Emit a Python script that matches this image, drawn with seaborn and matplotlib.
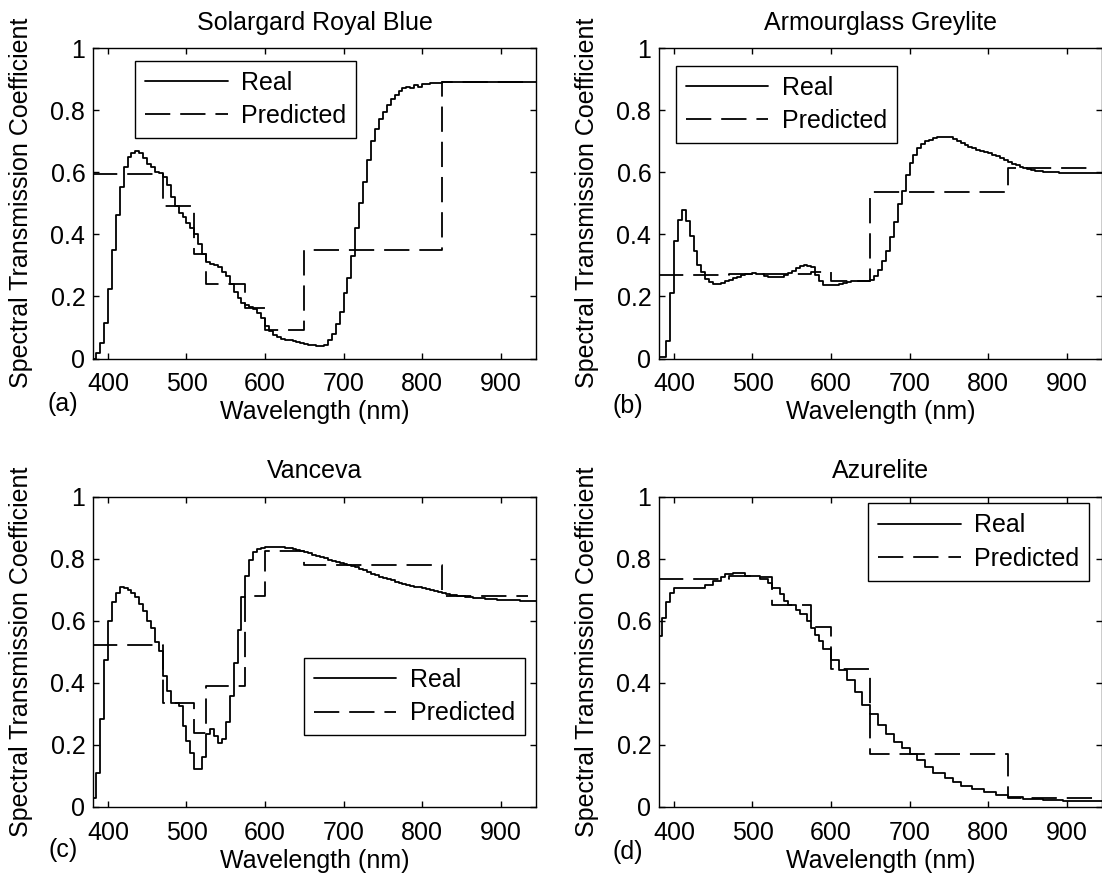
import numpy as np
import matplotlib
matplotlib.use("Agg")
import matplotlib.pyplot as plt
import seaborn as sns

# Sample grid of the measured spectra (5 nm) and the band edges of the prediction
WAVELENGTH = np.arange(380, 950, 5)
BAND_EDGES = [380, 470, 510, 525, 575, 600, 650, 825, 935]

TITLES = ["Solargard Royal Blue", "Armourglass Greylite", "Vanceva", "Azurelite"]
TAGS = ["(a)", "(b)", "(c)", "(d)"]
X_TICKS = [400, 500, 600, 700, 800, 900]
Y_TICKS = [0, 0.2, 0.4, 0.6, 0.8, 1.0]
Y_TICK_LABELS = ["0", "0.2", "0.4", "0.6", "0.8", "1"]

SOLARGARD_REAL = [
    0.00, 0.017, 0.051, 0.115, 0.223, 0.35, 0.462, 0.553, 0.618, 0.648,  # 380-425
    0.663, 0.669, 0.663, 0.647, 0.626, 0.616, 0.602, 0.597, 0.586, 0.56,  # 430-475
    0.52, 0.49, 0.47, 0.455, 0.435, 0.42, 0.40, 0.37, 0.335, 0.31,  # 480-525
    0.305, 0.30, 0.295, 0.28, 0.265, 0.24, 0.215, 0.195, 0.18, 0.172,  # 530-575
    0.165, 0.16, 0.145, 0.13, 0.105, 0.09, 0.075, 0.068, 0.064, 0.061,  # 580-625
    0.058, 0.055, 0.052, 0.05, 0.048, 0.045, 0.042, 0.04, 0.04, 0.045,  # 630-675
    0.06, 0.08, 0.11, 0.15, 0.21, 0.26, 0.33, 0.42, 0.50, 0.57,      # 680-725
    0.64, 0.70, 0.74, 0.77, 0.795, 0.815, 0.835, 0.85, 0.86, 0.87,   # 730-775
    0.876, 0.872, 0.88, 0.876, 0.884, 0.885, 0.886, 0.887, 0.888, 0.889,  # 780-825
    0.889, 0.889, 0.89, 0.89, 0.89, 0.89, 0.89, 0.891, 0.891, 0.891,  # 830-875
    0.891, 0.891, 0.892, 0.892, 0.892, 0.892, 0.892, 0.892, 0.892, 0.892,  # 880-925
    0.892, 0.892, 0.892, 0.892,                                      # 930-945
]
SOLARGARD_PRED = [0.593, 0.492, 0.336, 0.241, 0.163, 0.093, 0.349, 0.889]

GREYLITE_REAL = [
    0.005, 0.005, 0.056, 0.21, 0.38, 0.445, 0.478, 0.443, 0.395, 0.347,  # 380-425
    0.30, 0.277, 0.255, 0.245, 0.241, 0.239, 0.242, 0.249, 0.254, 0.259,  # 430-475
    0.264, 0.268, 0.271, 0.273, 0.274, 0.272, 0.271, 0.267, 0.264, 0.262,  # 480-525
    0.262, 0.263, 0.268, 0.275, 0.282, 0.292, 0.298, 0.301, 0.299, 0.294,  # 530-575
    0.27, 0.25, 0.237, 0.236, 0.237, 0.238, 0.24, 0.243, 0.246, 0.248,  # 580-625
    0.25, 0.25, 0.25, 0.25, 0.254, 0.265, 0.285, 0.314, 0.345, 0.39,  # 630-675
    0.44, 0.497, 0.54, 0.59, 0.63, 0.655, 0.678, 0.69, 0.70, 0.705,  # 680-725
    0.71, 0.713, 0.714, 0.714, 0.712, 0.706, 0.70, 0.694, 0.688, 0.682,  # 730-775
    0.677, 0.672, 0.667, 0.664, 0.661, 0.657, 0.651, 0.645, 0.639, 0.633,  # 780-825
    0.627, 0.622, 0.618, 0.614, 0.61, 0.607, 0.605, 0.603, 0.602, 0.601,  # 830-875
    0.60, 0.60, 0.599, 0.598, 0.598, 0.598, 0.598, 0.598, 0.598, 0.598,  # 880-925
    0.598, 0.598, 0.598, 0.598,                                      # 930-945
]
GREYLITE_PRED = [0.27, 0.272, 0.272, 0.272, 0.28, 0.25, 0.535, 0.612]

VANCEVA_REAL = [
    0.028, 0.11, 0.285, 0.475, 0.60, 0.66, 0.69, 0.71, 0.705, 0.70,  # 380-425
    0.69, 0.675, 0.655, 0.63, 0.60, 0.575, 0.532, 0.502, 0.421, 0.375,  # 430-475
    0.336, 0.336, 0.325, 0.26, 0.213, 0.175, 0.123, 0.123, 0.16, 0.234,  # 480-525
    0.25, 0.228, 0.207, 0.218, 0.274, 0.357, 0.464, 0.571, 0.676, 0.743,  # 530-575
    0.797, 0.82, 0.83, 0.835, 0.837, 0.838, 0.838, 0.837, 0.836, 0.835,  # 580-625
    0.833, 0.83, 0.828, 0.825, 0.821, 0.817, 0.813, 0.809, 0.805, 0.801,  # 630-675
    0.797, 0.793, 0.789, 0.786, 0.783, 0.78, 0.776, 0.772, 0.767, 0.762,  # 680-725
    0.757, 0.752, 0.747, 0.742, 0.738, 0.734, 0.73, 0.726, 0.722, 0.719,  # 730-775
    0.716, 0.713, 0.71, 0.707, 0.704, 0.701, 0.698, 0.695, 0.692, 0.689,  # 780-825
    0.686, 0.684, 0.682, 0.68, 0.678, 0.676, 0.675, 0.674, 0.673, 0.672,  # 830-875
    0.671, 0.67, 0.669, 0.668, 0.667, 0.667, 0.666, 0.666, 0.666, 0.665,  # 880-925
    0.665, 0.665, 0.665, 0.665,                                      # 930-945
]
VANCEVA_PRED = [0.523, 0.336, 0.239, 0.389, 0.679, 0.825, 0.78, 0.68]

AZURELITE_REAL = [
    0.55, 0.61, 0.66, 0.69, 0.705, 0.705, 0.705, 0.705, 0.705, 0.705,  # 380-425
    0.705, 0.705, 0.715, 0.715, 0.728, 0.728, 0.74, 0.75, 0.75, 0.755,  # 430-475
    0.755, 0.755, 0.745, 0.745, 0.745, 0.745, 0.735, 0.735, 0.72, 0.705,  # 480-525
    0.705, 0.685, 0.665, 0.65, 0.65, 0.635, 0.62, 0.62, 0.60, 0.575,  # 530-575
    0.555, 0.535, 0.51, 0.51, 0.475, 0.475, 0.44, 0.44, 0.41, 0.41,  # 580-625
    0.37, 0.37, 0.33, 0.33, 0.30, 0.30, 0.265, 0.265, 0.235, 0.235,  # 630-675
    0.21, 0.21, 0.19, 0.19, 0.17, 0.17, 0.15, 0.15, 0.13, 0.13,      # 680-725
    0.11, 0.11, 0.11, 0.095, 0.095, 0.08, 0.08, 0.068, 0.068, 0.068,  # 730-775
    0.057, 0.057, 0.057, 0.048, 0.048, 0.048, 0.04, 0.04, 0.04, 0.033,  # 780-825
    0.033, 0.033, 0.033, 0.027, 0.027, 0.027, 0.027, 0.027, 0.023, 0.023,  # 830-875
    0.023, 0.023, 0.023, 0.018, 0.018, 0.018, 0.018, 0.018, 0.018, 0.018,  # 880-925
    0.018, 0.018, 0.018, 0.018,                                      # 930-945
]
AZURELITE_PRED = [0.735, 0.745, 0.74, 0.65, 0.58, 0.445, 0.17, 0.028]

REAL = [SOLARGARD_REAL, GREYLITE_REAL, VANCEVA_REAL, AZURELITE_REAL]
PRED = [SOLARGARD_PRED, GREYLITE_PRED, VANCEVA_PRED, AZURELITE_PRED]

# figure layout in pixels (1102 x 883 at 100 dpi)
W, H = 1102, 883
AX_LEFT = [93, 659, 93, 659]
AX_TOP = [48, 48, 496.5, 496.5]
AX_W, AX_H = 443, 310.5
LEGEND_AT = [(0.095, 0.959), (0.038, 0.943), (0.476, 0.48), (0.472, 0.978)]
TAG_POS = [(63, 404), (628, 406), (63, 850), (628, 852)]
FONT_SIZE = 18

sns.set_theme(style="white")
plt.rcParams["font.family"] = ["Liberation Sans", "DejaVu Sans"]
plt.rcParams["text.color"] = "black"
plt.rcParams["axes.labelcolor"] = "black"

fig = plt.figure(figsize=(W / 100, H / 100), dpi=100)

for i in range(4):
    assert len(REAL[i]) == len(WAVELENGTH), (i, len(REAL[i]))
    ax = fig.add_axes([AX_LEFT[i] / W, 1 - (AX_TOP[i] + AX_H) / H, AX_W / W, AX_H / H])

    sns.lineplot(x=WAVELENGTH, y=REAL[i], color="black", linewidth=1.3,
                 drawstyle="steps-post", label="Real", ax=ax)
    pred_y = PRED[i] + [PRED[i][-1]]
    sns.lineplot(x=BAND_EDGES, y=pred_y, color="black", linewidth=1.3,
                 drawstyle="steps-post", linestyle=(0, (14, 5.5)),
                 label="Predicted", ax=ax)

    ax.set_xlim(381, 945)
    ax.set_ylim(0, 1)
    ax.set_xticks(X_TICKS)
    ax.set_yticks(Y_TICKS)
    ax.set_yticklabels(Y_TICK_LABELS)
    ax.tick_params(axis="both", which="major", direction="in", length=4, width=1.0,
                   color="black", labelcolor="black", labelsize=FONT_SIZE,
                   top=True, right=True, bottom=True, left=True)
    ax.tick_params(axis="x", pad=10)
    ax.tick_params(axis="y", pad=5.5)
    for s in ax.spines.values():
        s.set_color("black")
        s.set_linewidth(1.0)

    ax.set_title(TITLES[i], fontsize=FONT_SIZE, pad=13, color="black")
    ax.set_xlabel("Wavelength (nm)", fontsize=FONT_SIZE)
    ax.set_ylabel("Spectral Transmission Coefficient", fontsize=FONT_SIZE)
    ax.xaxis.set_label_coords(0.5, -0.135)
    ax.yaxis.set_label_coords(-0.135, 0.5)

    leg = ax.legend(loc="upper left", bbox_to_anchor=LEGEND_AT[i], borderaxespad=0,
                    fontsize=FONT_SIZE, frameon=True, fancybox=False, framealpha=1,
                    edgecolor="black", borderpad=0.4, labelspacing=0.38,
                    handlelength=3.3, handletextpad=0.55)
    leg.get_frame().set_linewidth(1.0)

    fig.text(TAG_POS[i][0] / W, 1 - TAG_POS[i][1] / H, TAGS[i], fontsize=FONT_SIZE,
             ha="center", va="center")

fig.savefig("out.png", dpi=100)
